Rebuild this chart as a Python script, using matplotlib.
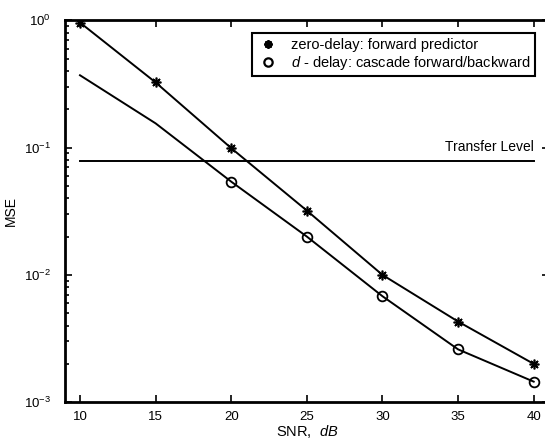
import matplotlib
matplotlib.use("Agg")
import matplotlib.pyplot as plt
from matplotlib.ticker import FixedLocator, NullFormatter
from matplotlib.lines import Line2D

plt.rcParams['font.family'] = ['Liberation Sans', 'DejaVu Sans']
plt.rcParams['mathtext.fontset'] = 'custom'
plt.rcParams['mathtext.rm'] = 'Liberation Sans'
plt.rcParams['mathtext.it'] = 'Liberation Sans:italic'
plt.rcParams['mathtext.default'] = 'regular'

snr = [10, 15, 20, 25, 30, 35, 40]  # SNR in dB
mse_zero = [0.96, 0.325, 0.099, 0.032, 0.0100, 0.0043, 0.0020]  # zero-delay forward predictor
mse_d = [0.37, 0.155, 0.054, 0.020, 0.0068, 0.0026, 0.00145]  # d-delay cascade
transfer_level = 0.079
star = (8, 2, 0)  # asterisk like matlab '*'

fig = plt.figure(figsize=(5.45, 4.41), dpi=100)
ax = fig.add_axes([0.119, 0.088, 0.888, 0.866])

ax.plot(snr, mse_zero, color='black', lw=1.4, marker=star, ms=7, mew=1.2)
ax.plot(snr, mse_d, color='black', lw=1.4)
ax.plot(snr[2:], mse_d[2:], color='black', lw=0, marker='o', ms=7, mfc='none', mew=1.3)
ax.plot([snr[0], snr[-1]], [transfer_level, transfer_level], color='black', lw=1.4)
ax.text(snr[-1], transfer_level * 1.13, 'Transfer Level', ha='right', va='bottom', fontsize=10)

ax.set_yscale('log')
ax.set_xlim(9, 41)
ax.set_ylim(1e-3, 1)
ax.set_xticks(snr)
minors = [m * 10.0 ** e for e in (-3, -2, -1) for m in range(2, 10)]
ax.yaxis.set_minor_locator(FixedLocator(minors))
ax.yaxis.set_minor_formatter(NullFormatter())
ax.tick_params(which='both', direction='in', top=True, right=True, labelsize=9.5)
ax.tick_params(which='major', length=5, width=1.2)
ax.tick_params(which='minor', length=3, width=1.2)
ax.tick_params(axis='y', pad=10)
ax.tick_params(axis='x', pad=6)
for s in ax.spines.values():
    s.set_linewidth(2)

ax.set_xlabel('SNR,  $\\it{dB}$', fontsize=10.5, labelpad=0)
ax.set_ylabel('MSE', fontsize=10, labelpad=4)

handles = [Line2D([], [], color='black', lw=0, marker=star, ms=6, mew=1.5),
           Line2D([], [], color='black', lw=0, marker='o', ms=6, mfc='none', mew=1.6)]
labels = ['zero-delay: forward predictor', '$\\it{d}$ - delay: cascade forward/backward']
leg = ax.legend(handles, labels, loc='upper right', bbox_to_anchor=(0.986, 0.985), fontsize=10.5,
                frameon=True, fancybox=False, edgecolor='black', handlelength=1.6,
                handletextpad=0.8, borderpad=0.3, labelspacing=0.15, framealpha=1)
leg.get_frame().set_linewidth(1.5)

fig.savefig('out.png')
